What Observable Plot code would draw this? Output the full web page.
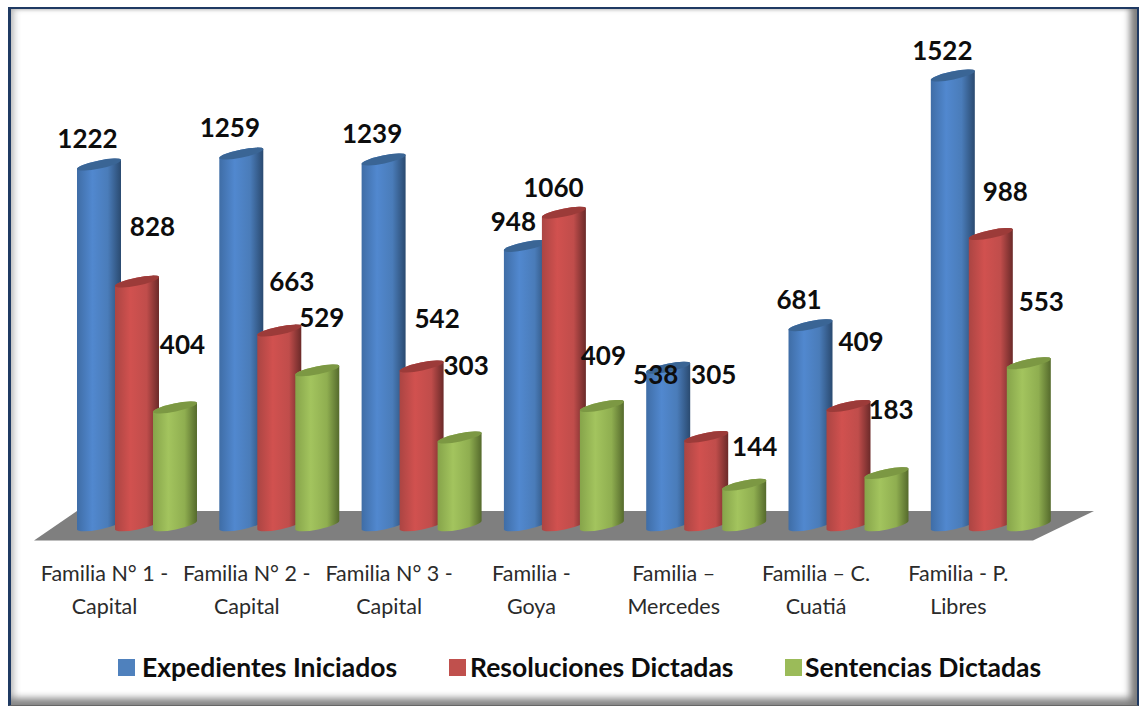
<!DOCTYPE html>
<html><head><meta charset="utf-8">
<script src="https://cdn.jsdelivr.net/npm/d3@7"></script>
<script src="https://cdn.jsdelivr.net/npm/@observablehq/plot@0.6"></script>
<style>
html,body{margin:0;padding:0;background:#fff;overflow:hidden;width:1142px;height:706px}
#wrap{position:relative;width:1142px;height:706px;font-family:Lato,sans-serif}
#frame{position:absolute;left:8px;top:7px;width:1131px;height:699px;box-sizing:border-box;pointer-events:none;
 border-left:3px solid #1f3a63;border-top:2px solid #1f3a63;border-right:2px solid #1f3a63;border-bottom:1px solid #666;
 box-shadow:inset -10px 0 7px -3px #7d7d7d,inset 0 -10px 7px -3px #8a8a8a,inset 7px 0 6px -3px #cfcfcf,inset 0 3px 3px -2px #ddd}
#legend{position:absolute;left:0;top:640px;width:1142px;height:56px;font-weight:700;font-size:26.5px;color:#0d0d0d}
#legend .k{position:absolute;top:19px;width:17px;height:17px}
#legend .t{position:absolute;top:10px;white-space:nowrap;line-height:34px}
</style></head><body>
<div id="wrap"><div id="chart"></div><div id="legend"></div><div id="frame"></div></div>
<script>
const categories = ["Familia N° 1 -\nCapital","Familia N° 2 -\nCapital","Familia N° 3 -\nCapital","Familia -\nGoya","Familia –\nMercedes","Familia – C.\nCuatiá","Familia - P.\nLibres"];
const seriesNames = ["Expedientes Iniciados","Resoluciones Dictadas","Sentencias Dictadas"];
const expedientes = [1222,1259,1239,948,538,681,1522];
const resoluciones = [828,663,542,1060,305,409,988];
const sentencias = [404,529,303,409,144,183,553];
const seriesValues = [expedientes,resoluciones,sentencias];

// layout only: how far each printed label sits from its bar top, as [dx,dy] per series per category
const labelNudges = [
 [[-12,-28],[-12,-28],[-12,-28],[-13,-27],[-13,4],[-12,-28],[-11,-27]],
 [[15,-57],[12,-51],[15,-50],[-11,-28],[7,-65],[12,-67],[14,-45]],
 [[7,-65],[4,-55],[6,-74],[1,-53],[10,-41],[4,-66],[12,-64]]
];
const bodyFills = ["url(#gBlue)","url(#gRed)","url(#gGreen)"];
const capFills = ["#3a6595","#9c3b39","#7c9843"];
const swatches = ["#4f81bd","#c0504d","#9bbb59"];
const gradients = {
 gBlue:[["0","#3f6da6"],["0.35","#5188cf"],["0.7","#4a7cb9"],["1","#2a4a70"]],
 gRed:[["0","#ab4543"],["0.35","#d1514f"],["0.72","#c04d4b"],["1","#6b2a29"]],
 gGreen:[["0","#86a44a"],["0.35","#a3c45e"],["0.72","#8fae50"],["1","#556a2c"]]
};
const NS = "http://www.w3.org/2000/svg";

const rows = seriesNames.flatMap((s,i)=>categories.map((c,j)=>({
 category:c, series:s, value:seriesValues[i][j], nudge:labelNudges[i][j]
})));

function makeDefs(){
 const defs = document.createElementNS(NS,"defs");
 for (const [id,stops] of Object.entries(gradients)){
  const g = document.createElementNS(NS,"linearGradient");
  g.setAttribute("id",id);
  for (const [o,c] of stops){
   const s = document.createElementNS(NS,"stop");
   s.setAttribute("offset",o); s.setAttribute("stop-color",c); g.appendChild(s);
  }
  defs.appendChild(g);
 }
 return defs;
}
function makeFloor(){
 const p = document.createElementNS(NS,"polygon");
 p.setAttribute("points","34,540.5 77,511 1094,511 1033,540.5");
 p.setAttribute("fill","#7f7f7f");
 return p;
}
// Turns each bar rectangle Plot drew into a tilted cylinder with a darker cap.
function cylinder(cap){
 return function(index,scales,values,dims,ctx,next){
  const g = next(index,scales,values,dims,ctx);
  for (const r of [...g.querySelectorAll("rect")]){
   const x0=+r.getAttribute("x"), w=+r.getAttribute("width")+6, top=+r.getAttribute("y")+1, bot=+r.getAttribute("y")+ +r.getAttribute("height")-1.5;
   const x1=x0+w, t=4.5, a=Math.hypot(w/2,t), rot=-Math.atan2(t*2,w)*180/Math.PI;
   const body=document.createElementNS(NS,"path");
   body.setAttribute("d",`M${x0},${top+t}A${a},4 ${rot} 0 1 ${x1},${top-t}L${x1},${bot-t}A${a},4.5 ${rot} 0 1 ${x0},${bot+t}Z`);
   const c=document.createElementNS(NS,"path");
   c.setAttribute("d",`M${x0},${top+t}A${a},4 ${rot} 0 1 ${x1},${top-t}A${a},4 ${rot} 0 1 ${x0},${top+t}Z`);
   c.setAttribute("fill",cap);
   r.replaceWith(body,c);
  }
  return g;
 };
}

const marks = [];
seriesNames.forEach((s,i)=>{
 marks.push(Plot.barY(rows.filter(d=>d.series===s),{
  fx:"category",x:"series",y:"value",fill:bodyFills[i],render:cylinder(capFills[i])
 }));
});
rows.forEach(d=>{
 marks.push(Plot.text([d],{
  fx:"category",x:"series",y:"value",text:d=>String(d.value),
  dx:d.nudge[0]+3,dy:d.nudge[1]+4,fontSize:26,fontWeight:700,fill:"#0d0d0d",textAnchor:"middle"
 }));
});
marks.push(Plot.axisFx({anchor:"bottom",tickSize:0,tickPadding:26.5,dx:-30,label:null,fontSize:21.5,lineHeight:1.56,fill:"#2b2b2b"}));

const chart = Plot.plot({
 width:1142,height:640,marginTop:0,marginLeft:77,marginRight:97.2,marginBottom:110,
 style:{fontFamily:"Lato, sans-serif",background:"transparent",overflow:"visible"},
 fx:{domain:categories,padding:0.199,round:false,axis:null},
 x:{domain:seriesNames,padding:0,round:false,axis:null},
 y:{domain:[0,1600],range:[526.5,51.3],axis:null},
 marks
});
chart.prepend(makeDefs(),makeFloor());
document.getElementById("chart").appendChild(chart);

const lg=document.getElementById("legend");
const keyX=[118,449,785], textX=[142,470,805];
seriesNames.forEach((s,i)=>{
 const k=document.createElement("div");k.className="k";k.style.left=keyX[i]+"px";k.style.background=swatches[i];lg.appendChild(k);
 const t=document.createElement("div");t.className="t";t.style.left=textX[i]+"px";t.textContent=s;lg.appendChild(t);
});
</script></body></html>
